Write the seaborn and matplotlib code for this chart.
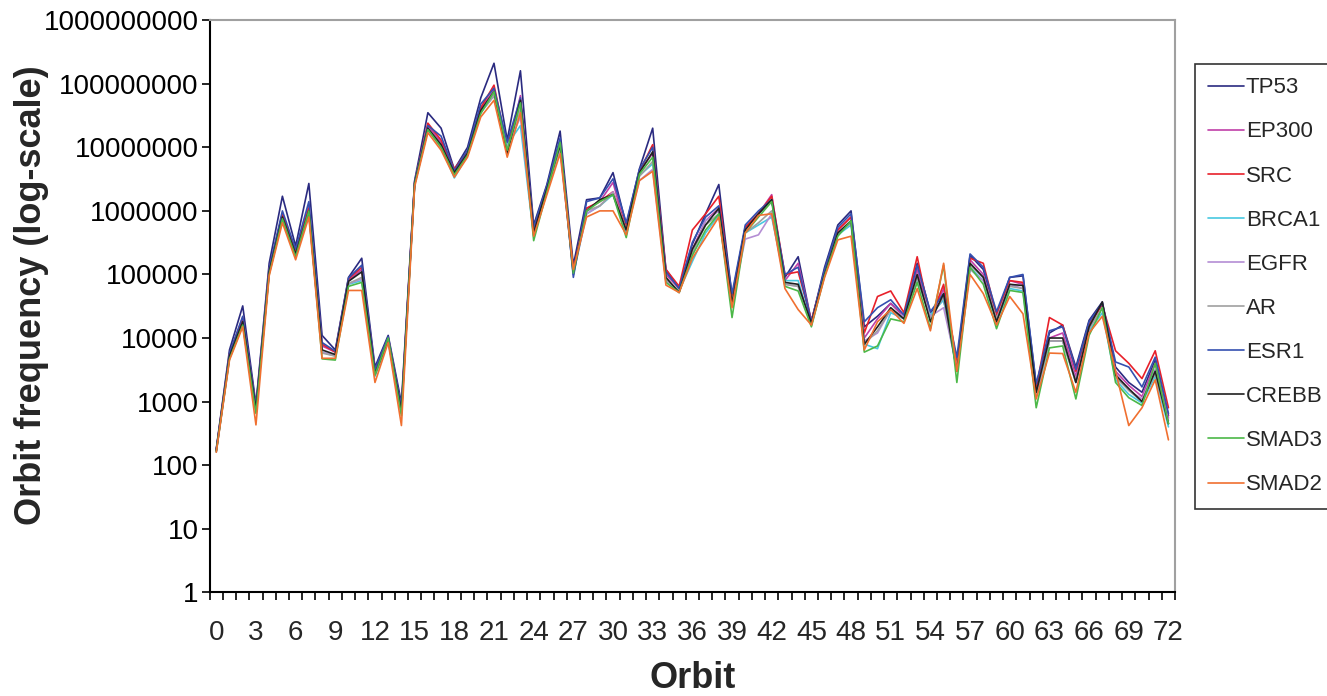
import pandas as pd
import seaborn as sns
import matplotlib.pyplot as plt
from matplotlib.ticker import FixedLocator, NullFormatter

# --- Data (orbit 0..72) ---
orbits = list(range(73))

genes = ['TP53', 'EP300', 'SRC', 'BRCA1', 'EGFR', 'AR', 'ESR1', 'CREBB', 'SMAD3', 'SMAD2']

tp53 = [180, 6500, 32000, 900, 150000, 1.7e6, 2.8e5, 2.7e6, 11000, 6500,
        90000, 180000, 3500, 11000, 950, 3e6, 3.5e7, 2e7, 4.5e6, 1e7,
        6e7, 2.1e8, 1.3e7, 1.6e8, 6e5, 2.6e6, 1.8e7, 1.4e5, 1.5e6, 1.6e6,
        4e6, 6e5, 4.6e6, 2e7, 1.2e5, 6e4, 3e5, 9e5, 2.6e6, 4.5e4,
        5.5e5, 9e5, 1.5e6, 9e4, 1.9e5, 1.8e4, 1.3e5, 6e5, 1e6, 1.5e4,
        2.2e4, 3.5e4, 2.2e4, 1.5e5, 2.5e4, 4e4, 4e3, 2e5, 1.2e5, 2.2e4,
        9e4, 9.5e4, 1.8e3, 1.2e4, 1.6e4, 3.5e3, 1.9e4, 3.7e4, 3.5e3, 2e3,
        1.4e3, 4.5e3, 600]
ep300 = [170, 5500, 20000, 800, 120000, 9e5, 2.3e5, 1.2e6, 7500, 6000,
         80000, 120000, 3000, 10000, 750, 2.8e6, 2.2e7, 1.2e7, 4.2e6, 8.5e6,
         4e7, 8e7, 9e6, 6.5e7, 5e5, 2.3e6, 1.2e7, 1.1e5, 1.1e6, 1.4e6,
         2.8e6, 5e5, 4.2e6, 8e6, 1e5, 6e4, 2.5e5, 7e5, 1.1e6, 4e4,
         5.5e5, 9e5, 1.8e6, 8e4, 1.5e5, 1.8e4, 1.1e5, 5e5, 8e5, 1e4,
         2e4, 3.5e4, 2.2e4, 1.2e5, 2e4, 6e4, 3.5e3, 1.7e5, 1e5, 2e4,
         8e4, 7e4, 1.5e3, 1e4, 1.2e4, 2.5e3, 1.7e4, 3.3e4, 3e3, 1.8e3,
         1.2e3, 4e3, 550]
src = [175, 5600, 21000, 800, 120000, 9e5, 2.3e5, 1.1e6, 8000, 6000,
       85000, 130000, 3000, 10000, 750, 2.8e6, 2.4e7, 1.3e7, 4.6e6, 8.5e6,
       4.2e7, 9.5e7, 1e7, 5.5e7, 5e5, 2.3e6, 1.2e7, 1.15e5, 1.1e6, 1.4e6,
       2e6, 5.5e5, 4.2e6, 1.1e7, 1.2e5, 6.5e4, 5e5, 9e5, 1.7e6, 4e4,
       5.5e5, 9e5, 1.7e6, 1e5, 1.1e5, 1.9e4, 1.1e5, 5e5, 8e5, 1.2e4,
       4.5e4, 5.5e4, 2.5e4, 1.9e5, 2e4, 7e4, 4e3, 1.8e5, 1.5e5, 2.3e4,
       8e4, 7.5e4, 1.6e3, 2.1e4, 1.6e4, 3e3, 1.6e4, 3.3e4, 6.3e3, 4e3,
       2.3e3, 6.3e3, 800]
brca1 = [165, 4900, 17000, 700, 105000, 7.5e5, 2e5, 9e5, 6000, 5200,
         70000, 80000, 2500, 9000, 650, 2.6e6, 1.9e7, 1e7, 3.3e6, 7.5e6,
         3.5e7, 6.5e7, 1.1e7, 2.2e7, 4e5, 2e6, 1e7, 1e5, 9e5, 1.2e6,
         1.8e6, 4.5e5, 3.6e6, 5.5e6, 8e4, 5.5e4, 1.6e5, 4.5e5, 8.5e5, 3.2e4,
         4.5e5, 6e5, 8e5, 8e4, 8e4, 1.6e4, 1e5, 4.2e5, 6e5, 8e3,
         6.8e3, 2.5e4, 2e4, 8e4, 2.3e4, 4e4, 3e3, 1.3e5, 8e4, 1.8e4,
         6e4, 5.5e4, 1.2e3, 9e3, 9e3, 2e3, 1.3e4, 2.5e4, 2.2e3, 1.3e3,
         950, 2.5e3, 400]
egfr = [165, 5000, 17000, 700, 105000, 7.5e5, 2e5, 9e5, 6000, 5300,
        72000, 85000, 2600, 9000, 650, 2.6e6, 1.9e7, 1e7, 3.8e6, 7.5e6,
        3.6e7, 6.5e7, 1e7, 3e7, 4.2e5, 2e6, 1e7, 1e5, 9e5, 1.2e6,
        2e6, 5e5, 3e6, 4.5e6, 8e4, 5.5e4, 2.2e5, 7e5, 1e6, 3.5e4,
        3.6e5, 4.2e5, 9e5, 7e4, 6.5e4, 1.6e4, 1e5, 4.5e5, 6.5e5, 9e3,
        1.2e4, 2.8e4, 2.2e4, 9e4, 2.2e4, 3e4, 3.5e3, 1.2e5, 8e4, 2e4,
        7e4, 6e4, 1.3e3, 9e3, 9e3, 2.2e3, 1.4e4, 3e4, 2.8e3, 1.5e3,
        1.1e3, 3.2e3, 500]
ar = [160, 4900, 17000, 700, 105000, 7.5e5, 2e5, 9e5, 5800, 5200,
      72000, 90000, 2600, 9000, 650, 2.6e6, 1.9e7, 1e7, 3.8e6, 7.5e6,
      3.6e7, 6.5e7, 9e6, 4e7, 4.2e5, 2e6, 1e7, 1e5, 1e6, 1.2e6,
      1.9e6, 5e5, 3.5e6, 6e6, 8.5e4, 5.5e4, 2.2e5, 6e5, 9e5, 3.5e4,
      4.5e5, 6.5e5, 1e6, 7e4, 6.5e4, 1.6e4, 1e5, 4.5e5, 6.5e5, 8e3,
      1.3e4, 2.8e4, 2e4, 9e4, 2e4, 4.5e4, 3e3, 1.4e5, 9e4, 2e4,
      6.5e4, 6e4, 1.3e3, 9e3, 9e3, 2e3, 1.4e4, 3e4, 2.4e3, 1.5e3,
      1e3, 2.8e3, 450]
esr1 = [175, 5800, 22000, 850, 125000, 1e6, 2.5e5, 1.4e6, 8500, 6200,
        88000, 140000, 3200, 10500, 800, 2.9e6, 2.2e7, 1.5e7, 4.3e6, 9e6,
        4.8e7, 8.5e7, 1.2e7, 6e7, 5.5e5, 2.5e6, 1.4e7, 9e4, 1.4e6, 1.6e6,
        3.2e6, 6.5e5, 4.5e6, 1e7, 1.1e5, 6e4, 3.2e5, 8e5, 1.2e6, 5e4,
        6e5, 1e6, 1.5e6, 1e5, 1.3e5, 1.8e4, 1.2e5, 5.5e5, 9e5, 1.8e4,
        3e4, 4e4, 2.3e4, 1.4e5, 2.6e4, 5e4, 5e3, 2.1e5, 1.3e5, 2.6e4,
        9e4, 1e5, 1.9e3, 1.3e4, 1.5e4, 3.2e3, 1.8e4, 3.5e4, 4.2e3, 3.5e3,
        1.7e3, 5e3, 650]
crebb = [170, 5200, 18000, 750, 110000, 8e5, 2.1e5, 1e6, 6500, 5500,
         78000, 110000, 2700, 9500, 700, 2.7e6, 2e7, 1.1e7, 4e6, 8e6,
         3.8e7, 7.5e7, 8e6, 5.5e7, 4.5e5, 2.2e6, 1.1e7, 1.1e5, 1e6, 1.5e6,
         1.8e6, 5e5, 4e6, 8.5e6, 9e4, 5.2e4, 2.5e5, 6e5, 1.1e6, 3.5e4,
         5e5, 9e5, 1.5e6, 7.5e4, 7e4, 1.7e4, 1e5, 4.5e5, 7e5, 8e3,
         1.5e4, 3e4, 2e4, 1e5, 1.8e4, 5e4, 3e3, 1.5e5, 9e4, 1.8e4,
         7e4, 6.7e4, 1.4e3, 1e4, 1e4, 2e3, 1.5e4, 3.7e4, 2.6e3, 1.6e3,
         1e3, 3e3, 450]
smad3 = [165, 4700, 16000, 650, 100000, 7.5e5, 1.9e5, 1e6, 4700, 4500,
         65000, 75000, 2600, 10000, 600, 2.6e6, 1.9e7, 1e7, 3.7e6, 7.5e6,
         3.4e7, 7.5e7, 9e6, 5e7, 3.4e5, 2e6, 1.2e7, 1.05e5, 1e6, 1.4e6,
         1.8e6, 3.8e5, 3.8e6, 7e6, 7.5e4, 5.2e4, 2e5, 5e5, 9e5, 2.1e4,
         4.5e5, 8e5, 1.4e6, 6.5e4, 5.5e4, 1.5e4, 9.5e4, 4e5, 7e5, 6e3,
         7.5e3, 2e4, 1.8e4, 7.5e4, 1.4e4, 1.4e5, 2e3, 1.3e5, 7e4, 1.4e4,
         5.6e4, 5.2e4, 800, 7e3, 7.5e3, 1.1e3, 1.1e4, 3e4, 2e3, 1.15e3,
         870, 4e3, 450]
smad2 = [160, 4500, 15000, 430, 95000, 6.5e5, 1.7e5, 8e5, 4800, 4800,
         56000, 56000, 2000, 8500, 420, 2.4e6, 1.7e7, 9e6, 3.4e6, 7e6,
         3e7, 5.5e7, 7e6, 3.5e7, 4e5, 1.8e6, 8e6, 1.2e5, 8e5, 1e6,
         1e6, 4.2e5, 3e6, 4.2e6, 6.8e4, 5.2e4, 1.8e5, 3.8e5, 8e5, 3e4,
         4.5e5, 8.5e5, 9e5, 6e4, 2.8e4, 1.6e4, 9e4, 3.5e5, 4e5, 6.5e3,
         1.8e4, 2.8e4, 1.7e4, 6e4, 1.3e4, 1.5e5, 3e3, 1e5, 5e4, 1.6e4,
         4.5e4, 2.4e4, 1.1e3, 5.8e3, 5.7e3, 1.4e3, 1.2e4, 2.2e4, 3e3, 420,
         800, 2.2e3, 250]

series = [tp53, ep300, src, brca1, egfr, ar, esr1, crebb, smad3, smad2]

colors = {'TP53': '#2a2a80', 'EP300': '#c040a8', 'SRC': '#e8202a',
          'BRCA1': '#48c8e0', 'EGFR': '#b48ed4', 'AR': '#a0a0a0',
          'ESR1': '#3550b0', 'CREBB': '#202020', 'SMAD3': '#4cb848',
          'SMAD2': '#f07030'}

df = pd.DataFrame({'Orbit': orbits * len(genes),
                   'Gene': [g for g in genes for _ in orbits],
                   'Freq': [v for s in series for v in s]})

# --- Plot ---
sns.set_theme(style="white")
plt.rcParams['font.family'] = ['Liberation Sans', 'DejaVu Sans']

fig = plt.figure(figsize=(13.27, 6.96), dpi=100)
ax = fig.add_axes([0.158, 0.149, 0.7275, 0.822])

sns.lineplot(data=df, x='Orbit', y='Freq', hue='Gene', hue_order=genes,
             palette=colors, linewidth=1.2, ax=ax, legend=False)

ax.set_yscale('log')
ax.set_ylim(1, 1e9)
ax.set_xlim(-0.5, 72.5)

yt = [10 ** k for k in range(10)]
ax.yaxis.set_major_locator(FixedLocator(yt))
ax.set_yticklabels([str(v) for v in yt])
ax.yaxis.set_minor_locator(FixedLocator([]))
ax.yaxis.set_minor_formatter(NullFormatter())

ax.set_xticks(list(range(0, 73, 3)))
ax.set_xticklabels([str(v) for v in range(0, 73, 3)])
ax.xaxis.set_minor_locator(FixedLocator([i - 0.5 for i in range(74)]))

ax.tick_params(axis='y', which='major', direction='out', length=6, width=1.2,
               pad=2, labelsize=20, colors='black', left=True)
ax.tick_params(axis='x', which='major', length=0, pad=20, labelsize=20)
ax.tick_params(axis='x', which='minor', direction='out', length=6, width=1.2,
               bottom=True, color='black')

for side in ['left', 'bottom']:
    ax.spines[side].set_color('black')
    ax.spines[side].set_linewidth(1.5)
for side in ['top', 'right']:
    ax.spines[side].set_color('#a0a0a0')
    ax.spines[side].set_linewidth(1.5)

ax.set_xlabel('Orbit', fontsize=26, fontweight='bold')
ax.xaxis.set_label_coords(0.5, -0.12)
ax.set_ylabel('Orbit frequency (log-scale)', fontsize=26, fontweight='bold')
ax.yaxis.set_label_coords(-0.166, 0.52)

handles = [plt.Line2D([], [], color=colors[g], linewidth=1.2) for g in genes]
leg = fig.legend(handles, genes, loc='upper left',
                 bbox_to_anchor=(1195 / 1327, 1 - 64 / 696),
                 fontsize=16, frameon=True, fancybox=False, shadow=False,
                 labelspacing=1.04, handlelength=1.6, handletextpad=0.08,
                 borderpad=0.6, borderaxespad=0)
leg.get_frame().set_edgecolor('black')
leg.get_frame().set_linewidth(1.2)

plt.savefig('out.png', dpi=100)
